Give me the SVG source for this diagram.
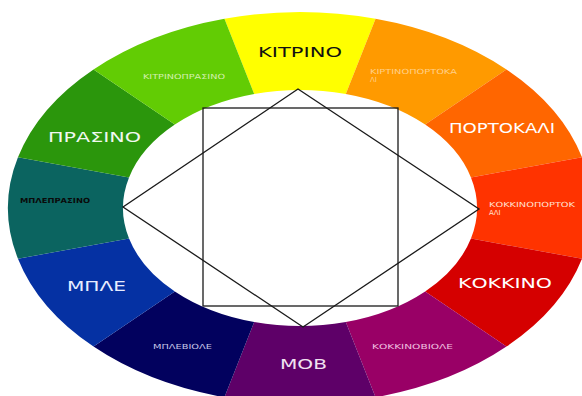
<svg xmlns="http://www.w3.org/2000/svg" width="582" height="396" viewBox="0 0 582 396">
<style>
.big{font-family:"DejaVu Sans","Liberation Sans",sans-serif;font-size:14px;fill:#ffffff}
.sm{font-family:"DejaVu Sans","Liberation Sans",sans-serif;font-size:7px;fill:#ffffff}
.ln{fill:none;stroke:#1a1a1a;stroke-width:1.3}
</style>
<rect x="0" y="0" width="582" height="396" fill="#ffffff"/>
<g id="kitrino">
<path d="M224.43,18.68 A292,196 0 0 1 375.57,18.68 L345.81,94.02 A177,118 0 0 0 254.19,94.02 Z" fill="#ffff00"/>
<text class="big" x="258" y="57" textLength="84" lengthAdjust="spacingAndGlyphs" style="fill:#111111">ΚΙΤΡΙΝΟ</text>
</g>
<g id="kitrinoportokali">
<path d="M375.57,18.68 A292,196 0 0 1 506.47,69.41 L425.16,124.56 A177,118 0 0 0 345.81,94.02 Z" fill="#ff9a00"/>
<text class="sm" x="370" y="74" textLength="87" lengthAdjust="spacingAndGlyphs" style="fill:#ffd08a">ΚΙΡΤΙΝΟΠΟΡΤΟΚΑ</text>
<text class="sm" x="370" y="82" style="fill:#ffd08a">ΛΙ</text>
</g>
<g id="portokali">
<path d="M506.47,69.41 A292,196 0 0 1 582.04,157.28 L470.96,177.46 A177,118 0 0 0 425.16,124.56 Z" fill="#ff6600"/>
<text class="big" x="449" y="133" textLength="106" lengthAdjust="spacingAndGlyphs">ΠΟΡΤΟΚΑΛΙ</text>
</g>
<g id="kokkinoportokali">
<path d="M582.04,157.28 A292,196 0 0 1 582.04,258.72 L470.96,238.54 A177,118 0 0 0 470.96,177.46 Z" fill="#ff3300"/>
<text class="sm" x="489" y="207" textLength="86" lengthAdjust="spacingAndGlyphs" style="fill:#ffe0d0">ΚΟΚΚΙΝΟΠΟΡΤΟΚ</text>
<text class="sm" x="489" y="215" style="fill:#ffe0d0">ΑΛΙ</text>
</g>
<g id="kokkino">
<path d="M582.04,258.72 A292,196 0 0 1 506.47,346.59 L425.16,291.44 A177,118 0 0 0 470.96,238.54 Z" fill="#d50000"/>
<text class="big" x="458" y="288" textLength="94" lengthAdjust="spacingAndGlyphs">ΚΟΚΚΙΝΟ</text>
</g>
<g id="kokkinoviole">
<path d="M506.47,346.59 A292,196 0 0 1 375.57,397.32 L345.81,321.98 A177,118 0 0 0 425.16,291.44 Z" fill="#990066"/>
<text class="sm" x="372" y="349" textLength="81" lengthAdjust="spacingAndGlyphs" style="fill:#f0c0e0">ΚΟΚΚΙΝΟΒΙΟΛΕ</text>
</g>
<g id="mov">
<path d="M375.57,397.32 A292,196 0 0 1 224.43,397.32 L254.19,321.98 A177,118 0 0 0 345.81,321.98 Z" fill="#5e0068"/>
<text class="big" x="280" y="369" textLength="47" lengthAdjust="spacingAndGlyphs" style="fill:#f0e0f0">ΜΟΒ</text>
</g>
<g id="mpleviole">
<path d="M224.43,397.32 A292,196 0 0 1 93.53,346.59 L174.84,291.44 A177,118 0 0 0 254.19,321.98 Z" fill="#02015e"/>
<text class="sm" x="153" y="349" textLength="59" lengthAdjust="spacingAndGlyphs" style="fill:#c8c8e8">ΜΠΛΕΒΙΟΛΕ</text>
</g>
<g id="mple">
<path d="M93.53,346.59 A292,196 0 0 1 17.96,258.72 L129.04,238.54 A177,118 0 0 0 174.84,291.44 Z" fill="#0531a3"/>
<text class="big" x="67" y="291" textLength="59" lengthAdjust="spacingAndGlyphs" style="fill:#e8ecff">ΜΠΛΕ</text>
</g>
<g id="mpleprasino">
<path d="M17.96,258.72 A292,196 0 0 1 17.96,157.28 L129.04,177.46 A177,118 0 0 0 129.04,238.54 Z" fill="#0b6460"/>
<text class="sm" x="20" y="203" textLength="70" lengthAdjust="spacingAndGlyphs" style="fill:#0a0a0a;font-weight:bold">ΜΠΛΕΠΡΑΣΙΝΟ</text>
</g>
<g id="prasino">
<path d="M17.96,157.28 A292,196 0 0 1 93.53,69.41 L174.84,124.56 A177,118 0 0 0 129.04,177.46 Z" fill="#2b960c"/>
<text class="big" x="48" y="142" textLength="93" lengthAdjust="spacingAndGlyphs" style="fill:#f0f8f0">ΠΡΑΣΙΝΟ</text>
</g>
<g id="kitrinoprasino">
<path d="M93.53,69.41 A292,196 0 0 1 224.43,18.68 L254.19,94.02 A177,118 0 0 0 174.84,124.56 Z" fill="#62cc04"/>
<text class="sm" x="143" y="79" textLength="82" lengthAdjust="spacingAndGlyphs" style="fill:#d4f0b0">ΚΙΤΡΙΝΟΠΡΑΣΙΝΟ</text>
</g>
<g id="connectors">
<rect class="ln" x="203" y="108" width="195" height="198"/>
<polygon class="ln" points="298,89 479,209 303,327 123,207"/>
</g>
</svg>
